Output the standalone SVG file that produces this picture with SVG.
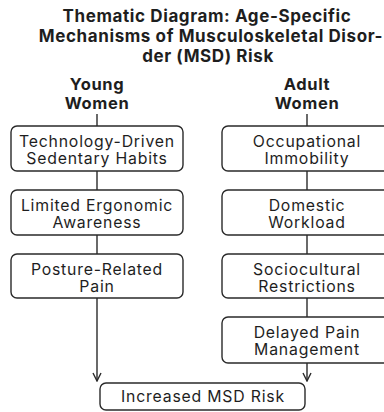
<svg xmlns="http://www.w3.org/2000/svg" width="384" height="412" viewBox="0 0 384 412">
<style>
.t{font-family:Inter,"Noto Sans","DejaVu Sans",sans-serif;fill:#1e1e1e;text-anchor:middle}
.title{font-size:17px;font-weight:700;letter-spacing:0.6px}
.hd{font-size:16.5px;font-weight:700;letter-spacing:0.6px}
.lb{font-size:15.8px;font-weight:400;letter-spacing:0.8px}
.box{fill:#fff;stroke:#2a2a2a;stroke-width:1.4}
.ln{stroke:#2a2a2a;stroke-width:1.4;fill:none}
</style>
<defs>
<marker id="ah" viewBox="0 0 10 10" refX="9" refY="5" markerWidth="10" markerHeight="10" markerUnits="userSpaceOnUse" orient="auto">
<path d="M1,1 L9,5 L1,9" fill="none" stroke="#2a2a2a" stroke-width="1.4"/>
</marker>
</defs>
<rect width="384" height="412" fill="#fff"/>
<g id="title">
<text class="t title" x="207" y="22">Thematic Diagram: Age-Specific</text>
<text class="t title" x="211" y="42">Mechanisms of Musculoskeletal Disor-</text>
<text class="t title" x="208" y="62">der (MSD) Risk</text>
</g>
<g id="connectors">
<line class="ln" x1="97" y1="114" x2="97" y2="126"/>
<line class="ln" x1="97" y1="171" x2="97" y2="190"/>
<line class="ln" x1="97" y1="235" x2="97" y2="254"/>
<line class="ln" x1="97" y1="298" x2="97" y2="381" marker-end="url(#ah)"/>
<line class="ln" x1="307" y1="114" x2="307" y2="126"/>
<line class="ln" x1="307" y1="171" x2="307" y2="190"/>
<line class="ln" x1="307" y1="235" x2="307" y2="254"/>
<line class="ln" x1="307" y1="298" x2="307" y2="317"/>
<line class="ln" x1="307" y1="363" x2="307" y2="381" marker-end="url(#ah)"/>
</g>
<g id="young">
<text class="t hd" x="97" y="90">Young</text>
<text class="t hd" x="97" y="109">Women</text>
</g>
<g id="adult">
<text class="t hd" x="307" y="90">Adult</text>
<text class="t hd" x="307" y="109">Women</text>
</g>
<g id="n1">
<rect class="box" x="11" y="126" width="172" height="45" rx="6"/>
<text class="t lb" x="97" y="147">Technology-Driven</text>
<text class="t lb" x="97" y="164">Sedentary Habits</text>
</g>
<g id="n2">
<rect class="box" x="11" y="190" width="172" height="45" rx="6"/>
<text class="t lb" x="97" y="211">Limited Ergonomic</text>
<text class="t lb" x="97" y="228">Awareness</text>
</g>
<g id="n3">
<rect class="box" x="11" y="254" width="172" height="44" rx="6"/>
<text class="t lb" x="97" y="275">Posture-Related</text>
<text class="t lb" x="97" y="292">Pain</text>
</g>
<g id="n4">
<rect class="box" x="222" y="126" width="170" height="45" rx="6"/>
<text class="t lb" x="307" y="147">Occupational</text>
<text class="t lb" x="307" y="164">Immobility</text>
</g>
<g id="n5">
<rect class="box" x="222" y="190" width="170" height="45" rx="6"/>
<text class="t lb" x="307" y="211">Domestic</text>
<text class="t lb" x="307" y="228">Workload</text>
</g>
<g id="n6">
<rect class="box" x="222" y="254" width="170" height="44" rx="6"/>
<text class="t lb" x="307" y="275">Sociocultural</text>
<text class="t lb" x="307" y="292">Restrictions</text>
</g>
<g id="n7">
<rect class="box" x="222" y="317" width="170" height="46" rx="6"/>
<text class="t lb" x="307" y="338">Delayed Pain</text>
<text class="t lb" x="307" y="355">Management</text>
</g>
<g id="n8">
<rect class="box" x="100" y="383" width="205" height="27" rx="6"/>
<text class="t lb" x="203" y="402">Increased MSD Risk</text>
</g>
</svg>
